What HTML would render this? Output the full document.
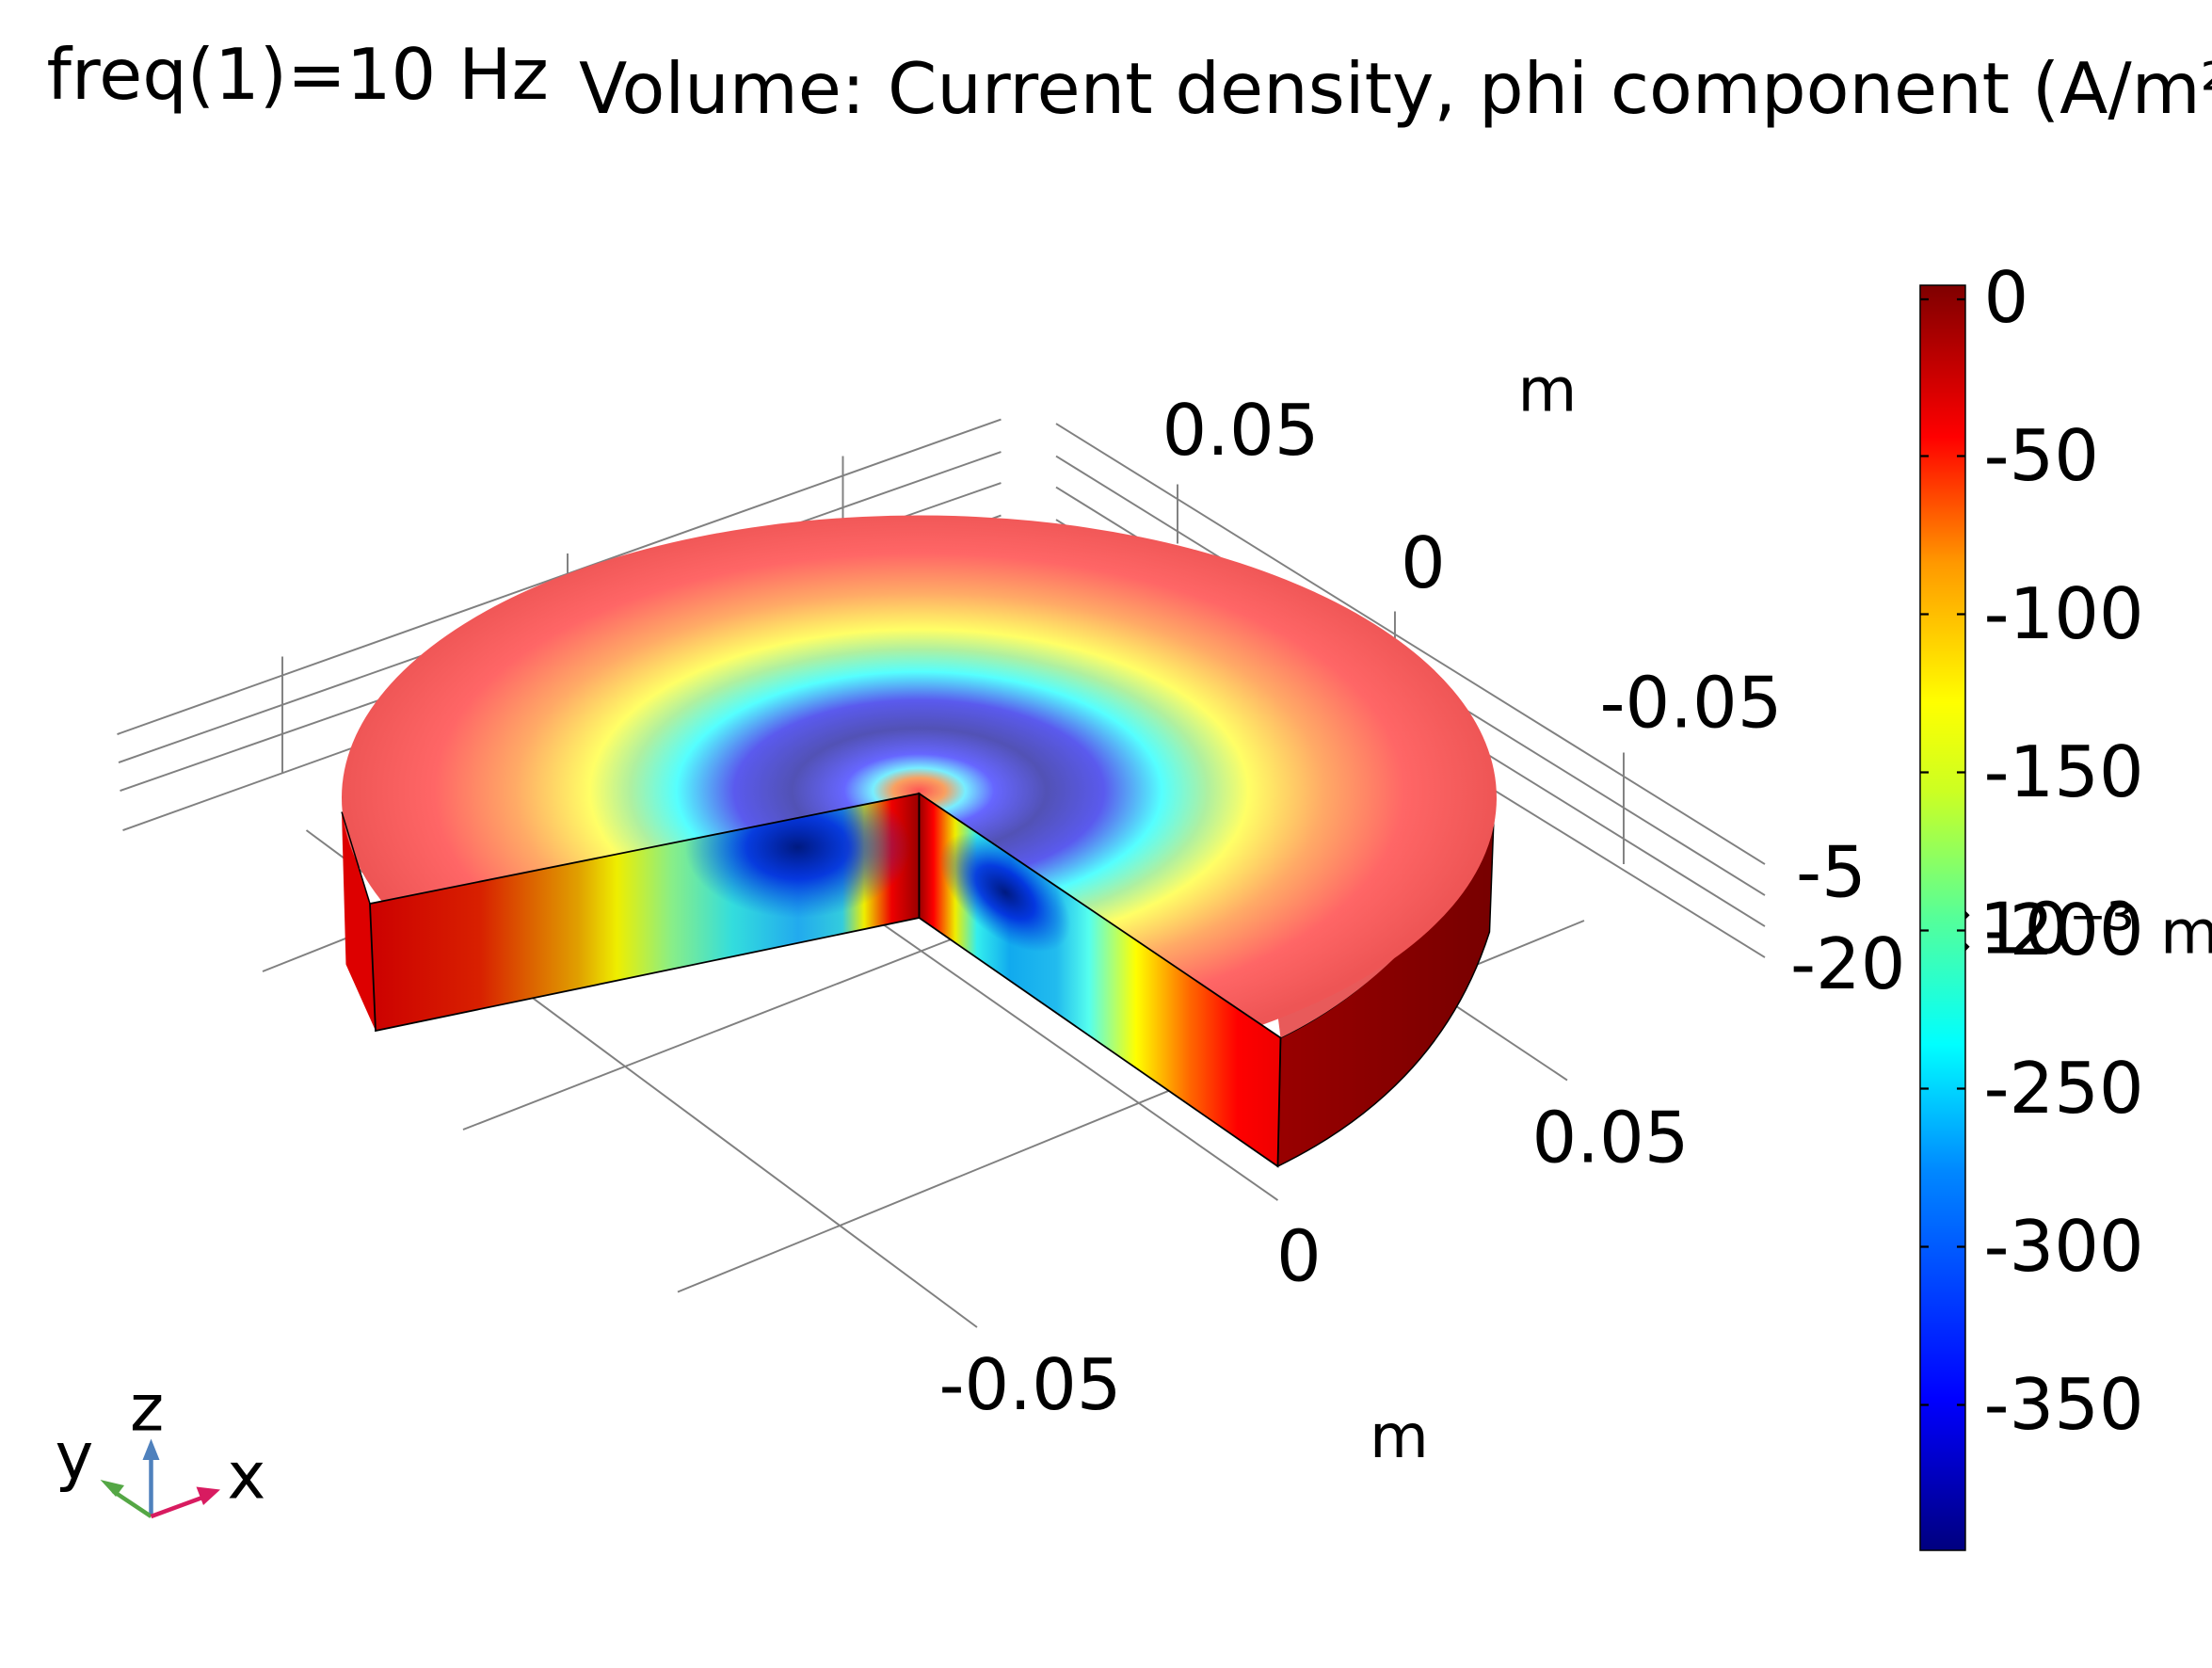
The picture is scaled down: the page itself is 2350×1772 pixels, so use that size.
<!DOCTYPE html>
<html><head><meta charset="utf-8"><style>html,body{margin:0;padding:0;background:#fff}svg{display:block}</style></head>
<body>
<svg width="2350" height="1772" viewBox="0 0 1566.7 1181.3" xmlns="http://www.w3.org/2000/svg" font-family="'DejaVu Sans','Liberation Sans',sans-serif">
<defs>
<radialGradient id="top" gradientUnits="userSpaceOnUse" cx="651" cy="560" r="409" gradientTransform="translate(651 560) scale(1 0.49) translate(-651 -560)">
<stop offset="0" stop-color="#f55"/><stop offset="0.045" stop-color="#f9a060"/><stop offset="0.08" stop-color="#7ef"/>
<stop offset="0.13" stop-color="#66f"/><stop offset="0.22" stop-color="#5252b5"/><stop offset="0.32" stop-color="#5a5aee"/>
<stop offset="0.42" stop-color="#5ff"/><stop offset="0.5" stop-color="#aff0a0"/><stop offset="0.57" stop-color="#ff6"/>
<stop offset="0.7" stop-color="#fa6"/><stop offset="0.84" stop-color="#f66"/><stop offset="1" stop-color="#e55"/>
</radialGradient>
<clipPath id="wedge"><path d="M651 562 L100 672 L100 0 L1566 0 L1566 865 L1100 865 Z"/></clipPath>
<linearGradient id="lf" gradientUnits="userSpaceOnUse" x1="262" y1="0" x2="651" y2="0">
<stop offset="0" stop-color="#c00"/><stop offset="0.2" stop-color="#d82000"/><stop offset="0.38" stop-color="#e0a000"/>
<stop offset="0.45" stop-color="#ee0"/><stop offset="0.55" stop-color="#8e8"/><stop offset="0.66" stop-color="#3dd"/>
<stop offset="0.78" stop-color="#2ae"/><stop offset="0.86" stop-color="#3cd"/><stop offset="0.9" stop-color="#ee0"/>
<stop offset="0.95" stop-color="#e00"/><stop offset="1" stop-color="#900"/>
</linearGradient>
<radialGradient id="blob" cx="0.5" cy="0.5" r="0.5"><stop offset="0" stop-color="#001a80"/><stop offset="0.45" stop-color="#02d" stop-opacity="0.85"/><stop offset="1" stop-color="#04d" stop-opacity="0"/></radialGradient>
<linearGradient id="rf" gradientUnits="userSpaceOnUse" x1="651" y1="0" x2="907" y2="0">
<stop offset="0" stop-color="#900"/><stop offset="0.04" stop-color="#f00"/><stop offset="0.1" stop-color="#ee0"/>
<stop offset="0.16" stop-color="#3ee"/><stop offset="0.25" stop-color="#1ae"/><stop offset="0.38" stop-color="#2be"/>
<stop offset="0.47" stop-color="#5fe"/><stop offset="0.6" stop-color="#ff0"/><stop offset="0.75" stop-color="#f60"/>
<stop offset="0.88" stop-color="#f00"/><stop offset="1" stop-color="#e00"/>
</linearGradient>
<linearGradient id="rr" x1="0" y1="0" x2="1" y2="0"><stop offset="0" stop-color="#900"/><stop offset="1" stop-color="#700"/></linearGradient>
<linearGradient id="cb" x1="0" y1="1" x2="0" y2="0">
<stop offset="0" stop-color="#00007f"/><stop offset="0.12" stop-color="#00f"/><stop offset="0.3" stop-color="#08f"/>
<stop offset="0.4" stop-color="#0ff"/><stop offset="0.5" stop-color="#5f9"/><stop offset="0.6" stop-color="#cf2"/>
<stop offset="0.67" stop-color="#ff0"/><stop offset="0.78" stop-color="#f90"/><stop offset="0.88" stop-color="#f00"/>
<stop offset="1" stop-color="#7f0000"/>
</linearGradient>
<clipPath id="lc"><path d="M262 640 L651 562 L651 650 L266 730 Z"/></clipPath>
<clipPath id="rc"><path d="M651 562 L907 735 L905 826 L651 650 Z"/></clipPath>
</defs>
<g stroke="#808080" stroke-width="1.3" fill="none">
<path d="M83 520 L709 297 M84 540 L709 320 M85 560 L709 342 M87 588 L709 365"/>
<path d="M748 300 L1250 612 M748 323 L1250 634 M748 345 L1250 656 M748 368 L1250 678"/>
<path d="M200 465 L200 548 M402 392 L402 420 M597 323 L597 368 M834 343 L834 385 M988 433 L988 460 M1150 533 L1150 612"/>
<path d="M217 588 L692 940 M186 688 L420 595 M328 800 L700 655 M480 915 L1122 652 M626 655 L905 850 M990 685 L1110 765"/>
</g>
<path d="M245 683 L242 575 L262 640 L266 730 Z" fill="#d00"/>
<path d="M907 735 Q1000 690 1058 580 L1055 660 Q1020 770 905 826 Z" fill="url(#rr)" stroke="#000" stroke-width="1"/>
<path d="M905 719 L907 735 Q1000 690 1058 585 L1060 565 Q1030 665 905 719 Z" fill="#e85a5a"/>
<ellipse cx="651" cy="565" rx="409" ry="200" fill="url(#top)" clip-path="url(#wedge)"/>
<path d="M262 640 L651 562 L651 650 L266 730 Z" fill="url(#lf)"/>
<g clip-path="url(#lc)"><ellipse cx="565" cy="600" rx="80" ry="50" fill="url(#blob)"/></g>
<path d="M262 640 L651 562 L651 650 L266 730 Z" fill="none" stroke="#000" stroke-width="1.2"/>
<path d="M651 562 L907 735 L905 826 L651 650 Z" fill="url(#rf)"/>
<g clip-path="url(#rc)"><ellipse cx="712" cy="632" rx="55" ry="30" fill="url(#blob)" transform="rotate(40 712 632)"/></g>
<path d="M651 562 L907 735 L905 826 L651 650 Z" fill="none" stroke="#000" stroke-width="1.2"/>
<path d="M262 640 L242 575" stroke="#000" stroke-width="1" fill="none"/>
<g font-size="50" fill="#000">
<text x="33" y="70">freq(1)=10 Hz</text>
<text x="410" y="80">Volume: Current density, phi component (A/m²)</text>
<text x="823" y="322">0.05</text><text x="992" y="416">0</text><text x="1133" y="515">-0.05</text>
<text x="1272" y="635">-5</text><text x="1268" y="700">-20</text><text x="1360" y="675">×10⁻³</text>
<text x="1075" y="291" font-size="43">m</text><text x="1530" y="675" font-size="43">m</text>
<text x="1085" y="823">0.05</text><text x="904" y="907">0</text><text x="665" y="998">-0.05</text>
<text x="970" y="1032" font-size="43">m</text>
</g>
<rect x="1360" y="202" width="32" height="896" fill="url(#cb)" stroke="#000" stroke-width="1"/>
<g stroke="#000" stroke-width="1.5">
<path d="M1360 212h6M1386 212h6M1360 323h6M1386 323h6M1360 435h6M1386 435h6M1360 547h6M1386 547h6M1360 659h6M1386 659h6M1360 771h6M1386 771h6M1360 883h6M1386 883h6M1360 995h6M1386 995h6"/>
</g>
<g font-size="50" fill="#000">
<text x="1405" y="228">0</text><text x="1405" y="340">-50</text><text x="1405" y="452">-100</text><text x="1405" y="564">-150</text>
<text x="1405" y="676">-200</text><text x="1405" y="788">-250</text><text x="1405" y="900">-300</text><text x="1405" y="1012">-350</text>
</g>
<g>
<line x1="107" y1="1074" x2="107" y2="1030" stroke="#4f81bd" stroke-width="3"/><path d="M101 1034 L107 1019 L113 1034 Z" fill="#4f81bd"/>
<line x1="107" y1="1074" x2="80" y2="1056" stroke="#54a745" stroke-width="3"/><path d="M71 1048 L88 1052 L82 1060 Z" fill="#54a745"/>
<line x1="107" y1="1074" x2="145" y2="1060" stroke="#d81b60" stroke-width="3"/><path d="M156 1055 L139 1053 L144 1066 Z" fill="#d81b60"/>
<g font-size="46" fill="#000"><text x="92" y="1013">z</text><text x="39" y="1047">y</text><text x="161" y="1061">x</text></g>
</g>
</svg>
</body></html>
